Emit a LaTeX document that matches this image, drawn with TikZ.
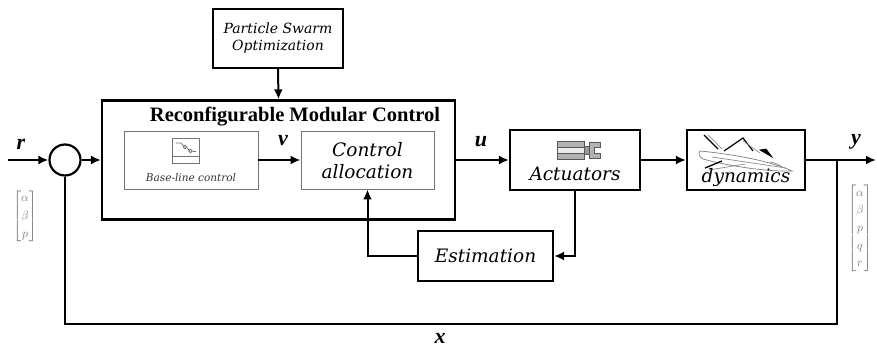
\documentclass[tikz,border=0pt]{standalone}
\usepackage{amsmath}
\usepackage{fontspec}
\setmainfont{Liberation Serif}
\newfontfamily\boxfont{DejaVu Serif}
\usetikzlibrary{arrows.meta}

\begin{document}
\begin{tikzpicture}[x=1pt,y=-1pt,
  blk/.style={draw, line width=2.2pt, fill=white, inner sep=0pt},
  inner/.style={draw=black!55, line width=0.9pt, fill=white, inner sep=0pt},
  btext/.style={font=\boxfont\itshape\fontsize{18.5}{22}\selectfont, align=center},
  wire/.style={line width=2pt},
  arr/.style={wire, -{Latex[length=10pt,width=9pt]}},
  sig/.style={font=\bfseries\itshape\fontsize{22}{22}\selectfont},
  vec/.style={text=black!55, font=\fontsize{12.5}{17.5}\selectfont}]
\useasboundingbox (0,0) rectangle (877,347);

% blocks
\node[blk, minimum width=130pt, minimum height=59pt] (pso) at (278,38.5) {};
\node[font=\boxfont\itshape\fontsize{14}{17}\selectfont, align=center] at (pso) {Particle Swarm\\Optimization};

\node[blk, minimum width=353pt, minimum height=119pt] (rmc) at (278.5,160) {};
\node[font=\bfseries\fontsize{20.5}{22}\selectfont] (rmctitle) at (295,117) {Reconfigurable Modular Control};

\node[inner, minimum width=134pt, minimum height=58pt] (base) at (191,160) {};
\node[inner, minimum width=133pt, minimum height=58pt] (ca) at (367.5,160) {};
\node[btext] at (367.5,161) {Control\\allocation};

\node[blk, minimum width=130pt, minimum height=60pt] (act) at (575,160) {};
\node[blk, minimum width=118pt, minimum height=60pt] (dyn) at (746,160) {};
\node[blk, minimum width=135pt, minimum height=50pt] (est) at (485.5,256) {};
\node[btext] at (est) {Estimation};

\node[draw, line width=2.2pt, circle, minimum size=31pt, inner sep=0pt, fill=white] (sum) at (65,160) {};

% base-line control icon and caption
\begin{scope}[black!55, line width=0.8pt]
  \draw (172,138) rectangle (199,163);
  \draw (172,156) -- (199,156);
  \draw (176,143) -- (181,143) -- (183.5,146);
  \draw (185,147) circle (1.8pt);
  \draw (187,148) -- (189,150);
  \draw (190.5,151) circle (1.8pt);
  \draw (192.5,151) -- (196,151);
\end{scope}
\node[font=\boxfont\itshape\fontsize{10.5}{13}\selectfont, text=black!80] at (191,178) {Base-line control};

% actuator icon and caption
\begin{scope}[draw=black!65, line width=0.8pt]
  \draw[fill=black!30] (557,141) rectangle (584,159);
  \draw[fill=black!8] (557,147) rectangle (584,153);
  \draw[fill=black!40] (584,146) rectangle (589,154);
  \draw[fill=black!30] (589,142) -- (600,142) -- (600,147) -- (594,147) -- (594,153)
        -- (600,153) -- (600,158) -- (589,158) -- cycle;
\end{scope}
\node[btext] at (575,174) {Actuators};

% aircraft icon and caption
\begin{scope}[line width=0.7pt]
  % fuselage
  \draw[black!50, fill=white] (700,151) .. controls (730,154) and (768,160) .. (792,171)
        .. controls (768,172) and (728,166) .. (703,159) .. controls (699,157) and (698,153) .. cycle;
  \draw[black!45] (712,157) -- (786,168);
  \draw[black!45] (770,162) .. controls (776,163) and (780,165) .. (783,168);
  % tail fin
  \draw[black, line width=1.3pt] (704,135) -- (718,149);
  \draw[black!45] (708,135) -- (722,149);
  % upper wing
  \draw[black, line width=1.2pt] (724,151) -- (743,138) -- (753,151);
  \draw[black!45] (743,141) -- (760,153);
  % canopy patch
  \draw[black, fill=black] (760,150) -- (766,149) -- (772,157) -- cycle;
  % lower wing
  \draw[black, line width=1.3pt] (705,168) -- (722,161);
  \draw[black!45] (709,170) -- (745,164);
\end{scope}
\node[btext] at (746,178) {dynamics};

% signal coordinates
\coordinate (rin) at (8,160);
\coordinate (yout) at (876,160);
\coordinate (br) at (837,160);
\coordinate (fb) at (837,324);

% connectors
\draw[arr] (rin) -- (sum.west);
\draw[arr] (sum.east) -- (rmc.west);
\draw[arr] (pso.south) -- (rmc.north);
\draw[arr] (base.east) -- (ca.west);
\draw[arr] (rmc.east) -- (act.west);
\draw[arr] (act.east) -- (dyn.west);
\draw[arr] (dyn.east) -- (yout);
\draw[wire] (br) -- (fb) -| (sum.south);
\draw[arr] (act.south) |- (est.east);
\draw[arr] (est.west) -| (ca.south);

% signal labels
\node[sig] (lr) at (21,144) {r};
\node[sig] (lv) at (283,141) {v};
\node[sig] (lu) at (481,142) {u};
\node[sig] (ly) at (856,142) {y};
\node[sig] (lx) at (440,338) {x};

% state vectors
\node[vec] (vl) at (25,216) {$\begin{bmatrix}\alpha\\ \beta\\ p\end{bmatrix}$};
\node[vec] (vr) at (860,228) {$\begin{bmatrix}\alpha\\ \beta\\ p\\ q\\ r\end{bmatrix}$};
\end{tikzpicture}
\end{document}
